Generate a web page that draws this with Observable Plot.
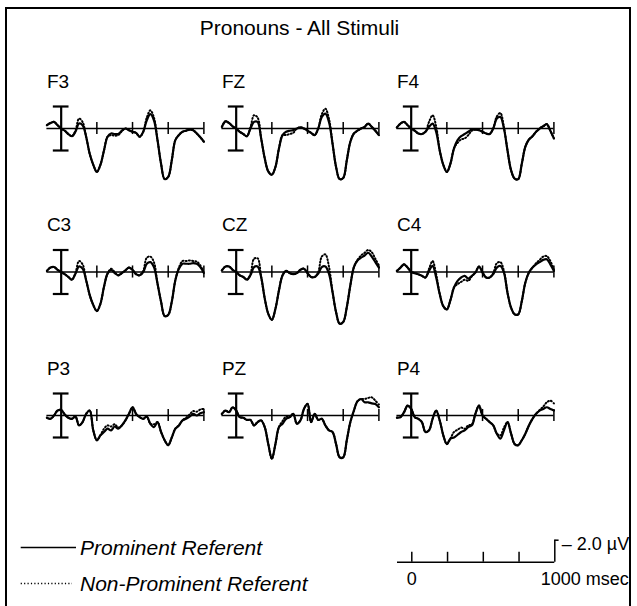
<!DOCTYPE html>
<html><head><meta charset="utf-8">
<script src="https://cdn.jsdelivr.net/npm/d3@7"></script>
<script src="https://cdn.jsdelivr.net/npm/@observablehq/plot@0.6"></script>
<style>
html,body{margin:0;padding:0;width:637px;height:606px;overflow:hidden;background:#fff;font-family:"Liberation Sans",Arial,Helvetica,sans-serif;color:#000;}
#frame{position:absolute;left:5px;top:7px;width:626px;height:640px;border:2px solid #000;box-sizing:border-box;}
#title{position:absolute;left:46px;width:507px;top:17px;text-align:center;font-size:21px;line-height:21px;}
#chart{position:absolute;left:0;top:0;}
#scale{position:absolute;left:0;top:520px;}
.leg{position:absolute;left:20px;height:21px;font-size:21px;font-style:italic;line-height:21px;white-space:nowrap;}
.leg svg{position:absolute;left:0;top:0;}
.leg span{position:absolute;left:60px;top:0;}
</style></head>
<body>
<div id="frame"></div>
<div id="title">Pronouns - All Stimuli</div>
<div id="chart"></div>
<div id="scale"></div>
<div class="leg" id="leg1"><svg width="60" height="21"><line x1="0.7" x2="56" y1="10.5" y2="10.5" stroke="#000" stroke-width="1.6"/></svg><span>Prominent Referent</span></div>
<div class="leg" id="leg2"><svg width="60" height="21"><line x1="0.7" x2="52" y1="10.5" y2="10.5" stroke="#000" stroke-width="1.6" stroke-dasharray="1.2,2.2"/></svg><span>Non-Prominent Referent</span></div>
<script>
// ---- data (µV, positive up) ----
const times = [-100,-75,-50,-25,0,25,50,75,100,125,150,175,200,225,250,275,300,325,350,375,400,425,450,475,500,525,550,575,600,625,650,675,700,725,750,775,800,825,850,875,900,925,950,975,1000];
const electrodes = ["F3","FZ","F4","C3","CZ","C4","P3","PZ","P4"];
const conditions = ["Prominent Referent","Non-Prominent Referent"];

const promF3 = [0.3,0.5,0.6,0.3,0,-0.2,-0.5,-0.7,-0.3,0.45,0.3,-0.75,-2.3,-3.3,-3.95,-3.3,-2.0,-0.75,-0.45,-0.5,-0.5,-0.2,0,-0.15,-0.3,-0.4,-0.75,-0.3,0.75,1.3,0.75,-1.05,-3.2,-4.6,-4.4,-2.9,-1.05,-0.6,-0.3,-0.2,-0.1,-0.15,-0.45,-0.8,-1.2];
const nonF3  = [0.3,0.5,0.6,0.3,0,-0.2,-0.5,-0.7,-0.2,0.9,0.6,-0.75,-2.3,-3.3,-3.95,-3.3,-2.0,-0.75,-0.6,-0.65,-0.6,-0.25,0,-0.15,-0.3,-0.4,-0.75,-0.3,1.0,1.65,1.0,-1.05,-3.2,-4.6,-4.4,-2.9,-1.05,-0.6,-0.3,-0.2,-0.1,-0.15,-0.45,-0.8,-1.2];
const promFZ = [0.15,0.65,0.5,0.2,0,-0.3,-0.5,-0.7,0,0.6,0.6,-0.9,-2.7,-3.9,-4.2,-3.5,-1.8,-0.6,-0.3,-0.2,-0.15,0,0.1,0,-0.2,-0.4,-0.6,0,1.05,1.35,0.6,-1.35,-3.5,-4.6,-4.5,-2.9,-1.2,-0.45,-0.2,0,0.15,0.45,0.15,-0.2,-0.6];
const nonFZ  = [0.15,0.65,0.5,0.2,0,-0.3,-0.5,-0.7,0.1,1.2,1.0,-0.9,-2.7,-3.9,-4.2,-3.5,-1.8,-0.6,-0.6,-0.5,-0.4,0,0.1,0,-0.2,-0.4,-0.6,0,1.3,1.8,0.9,-1.35,-3.5,-4.6,-4.5,-2.9,-1.2,-0.45,-0.2,0,0.15,0.45,0.15,-0.2,-0.6];
const promF4 = [0.1,0.45,0.6,0.3,0,-0.2,-0.45,-0.5,-0.3,0.15,0.45,-0.3,-2.0,-3.3,-3.95,-3.2,-1.8,-1.05,-0.7,-0.5,-0.3,-0.1,-0.1,-0.15,-0.3,-0.45,-0.5,0,0.9,1.05,0,-2.0,-3.8,-4.55,-4.6,-3.2,-1.65,-1.0,-0.7,-0.3,0,0.2,0.4,-0.2,-0.9];
const nonF4  = [0.1,0.45,0.6,0.3,0,-0.2,-0.45,-0.5,-0.3,0.6,1.2,0.2,-2.0,-3.3,-3.95,-3.2,-1.8,-1.3,-1.0,-0.9,-0.6,-0.2,-0.1,-0.15,-0.3,-0.45,-0.5,0,1.1,1.4,0.1,-2.0,-3.8,-4.55,-4.6,-3.2,-1.65,-1.0,-0.7,-0.3,0,0.2,0.4,-0.2,-0.9];
const promC3 = [0.1,0.4,0.45,0.2,0,-0.2,-0.45,-0.7,-0.15,0.5,0.3,-0.75,-2.1,-3.0,-3.55,-2.9,-1.35,-0.15,0.2,-0.1,-0.3,-0.1,0.15,0.4,0.2,-0.2,-0.3,0,0.75,0.9,0.45,-1.05,-2.7,-4.0,-3.9,-2.7,-0.75,0.3,0.75,0.75,0.75,0.8,0.75,0.45,-0.1];
const nonC3  = [0.1,0.4,0.45,0.2,0,-0.2,-0.45,-0.7,-0.1,1.0,0.7,-0.75,-2.1,-3.0,-3.55,-2.9,-1.35,-0.15,0.3,0,-0.3,-0.1,0.15,0.4,0.2,-0.2,-0.3,0.1,1.3,1.4,0.9,-1.05,-2.7,-4.0,-3.9,-2.7,-0.75,0.4,1.0,1.0,1.05,1.0,0.95,0.6,-0.1];
const promCZ = [0.15,0.5,0.5,0.2,0,-0.3,-0.45,-0.7,-0.3,0.45,0.5,-0.45,-2.4,-3.8,-4.35,-3.35,-1.65,-0.3,0.1,-0.1,-0.2,-0.1,0.2,0.3,-0.1,-0.45,-0.45,-0.15,0.45,0.5,-0.15,-1.8,-3.65,-4.7,-4.55,-3.2,-1.2,0.45,1.05,1.3,1.5,1.75,1.4,0.9,0.4];
const nonCZ  = [0.15,0.5,0.5,0.2,0,-0.3,-0.45,-0.7,-0.2,1.2,1.25,-0.45,-2.4,-3.8,-4.35,-3.35,-1.65,-0.3,0.1,-0.1,-0.2,-0.1,0.2,0.3,-0.1,-0.45,-0.45,0,1.4,1.6,0.5,-1.8,-3.65,-4.7,-4.55,-3.2,-1.2,0.45,1.1,1.5,1.75,2.0,1.8,1.2,0.6];
const promC4 = [0.1,0.4,0.7,0.4,0,-0.1,-0.2,-0.35,-0.5,0.1,0.55,-0.5,-2.0,-3.1,-3.4,-2.55,-1.4,-0.8,-0.5,-0.35,-0.6,-0.35,-0.05,0.5,-0.05,-0.5,-0.5,-0.2,0.4,0.55,-0.05,-1.9,-3.25,-3.85,-3.85,-2.65,-0.95,-0.05,0.4,0.7,0.9,1.1,1.15,0.7,0.1];
const nonC4  = [0.1,0.4,0.7,0.4,0,-0.1,-0.2,-0.35,-0.5,0.3,1.0,-0.2,-2.0,-3.1,-3.4,-2.55,-1.4,-1.1,-0.9,-0.7,-0.8,-0.4,-0.05,0.5,-0.05,-0.5,-0.5,-0.1,0.8,0.9,0.1,-1.9,-3.25,-3.85,-3.85,-2.65,-0.95,-0.05,0.4,0.8,1.1,1.4,1.45,1.0,0.2];
const promP3 = [-0.2,-0.3,0,0.45,0.5,0.1,-0.2,-0.3,-0.1,-0.9,-0.6,0.15,0.45,-1.35,-2.25,-1.8,-1.5,-1.2,-1.35,-1.0,-1.2,-0.9,-0.45,0.15,0.75,0.15,-0.15,-0.3,-0.1,-0.75,-1.05,-0.6,-1.5,-2.25,-2.7,-2.0,-1.2,-0.9,-0.45,-0.3,-0.1,0.15,0,0.2,0.3];
const nonP3  = [-0.2,-0.3,0,0.45,0.5,0.1,-0.2,-0.3,-0.1,-0.9,-0.6,0.15,0.45,-1.35,-2.25,-1.8,-1.2,-0.9,-1.0,-0.8,-1.1,-0.9,-0.45,0.15,0.75,0.15,-0.15,-0.3,-0.1,-0.75,-0.8,-0.6,-1.5,-2.25,-2.7,-2.0,-1.2,-0.9,-0.45,-0.2,0.1,0.4,0.35,0.55,0.6];
const promPZ = [0.15,0.45,0.3,0.75,0.45,-0.15,-0.2,-0.4,-0.4,-0.9,-0.6,-0.45,-1.05,-2.6,-3.95,-2.6,-1.05,-0.75,-0.3,-0.15,0.15,-0.75,-0.45,0.6,1.05,-0.6,0.15,-0.4,-0.3,-0.9,-1.35,-1.5,-2.6,-3.8,-3.8,-2.25,-0.6,0.45,1.3,1.5,1.2,1.2,1.1,1.05,0.75];
const nonPZ  = [0.15,0.45,0.3,0.75,0.45,-0.15,-0.2,-0.4,-0.4,-0.9,-0.6,-0.45,-1.05,-2.6,-3.95,-2.6,-1.05,-0.5,-0.1,-0.15,0.15,-0.75,-0.45,0.6,1.05,-0.6,0.15,-0.4,-0.3,-0.9,-1.35,-1.5,-2.6,-3.8,-3.8,-2.25,-0.6,0.45,1.3,1.5,1.5,1.6,1.65,1.35,1.0];
const promP4 = [-0.2,-0.15,0.3,0.9,0.6,-0.15,-0.3,-0.6,-1.5,-1.35,-0.3,0.45,-0.45,-1.8,-2.6,-2.1,-2.0,-1.75,-1.5,-1.35,-1.05,-0.9,0.15,0.9,0,-0.3,-0.6,-0.9,-1.65,-2.1,-1.35,-0.6,-1.65,-2.6,-2.7,-2.25,-1.65,-0.9,-0.3,0.15,0.45,0.6,0.75,0.6,0.45];
const nonP4  = [-0.2,-0.15,0.3,0.9,0.6,-0.15,-0.3,-0.6,-1.5,-1.35,-0.3,0.45,-0.45,-1.8,-2.6,-2.1,-1.5,-1.3,-1.1,-1.2,-0.9,-0.8,0.15,0.9,0,-0.3,-0.6,-0.9,-1.65,-1.8,-1.1,-0.6,-1.65,-2.6,-2.7,-2.25,-1.65,-0.9,-0.3,0.15,0.5,0.8,1.2,1.35,1.1];

const prominentSeries = [promF3,promFZ,promF4,promC3,promCZ,promC4,promP3,promPZ,promP4];
const nonProminentSeries = [nonF3,nonFZ,nonF4,nonC3,nonCZ,nonC4,nonP3,nonPZ,nonP4];

const axisTicks = [250,500,750,1000];      // ms
const calib = 2;                           // µV, calibration bar half-height
const scaleTicks = [0,250,500,750];        // ms
const scaleLabelTimes = [0,1000];
const scaleLabels = ["0","1000 msec"];
const microvoltLabel = "– 2.0 µV";

// ---- table ----
const rows = [];
electrodes.forEach((e, i) => {
  times.forEach((t, j) => {
    rows.push({electrode: e, cond: conditions[0], t, v: prominentSeries[i][j]});
    rows.push({electrode: e, cond: conditions[1], t, v: nonProminentSeries[i][j]});
  });
});
const colOf = e => e.slice(1);
const rowOf = e => e[0];
const font = '"Liberation Sans", Arial, Helvetica, sans-serif';

const chart = Plot.plot({
  width: 637, height: 480,
  marginLeft: 46.4, marginRight: 83.6, marginTop: 73, marginBottom: 10,
  x: {domain: [-100, 1000], axis: null},
  y: {domain: [-5, 5], axis: null},
  fx: {domain: ["3","Z","4"], paddingInner: 0.103, paddingOuter: 0, round: false, axis: null},
  fy: {domain: ["F","C","P"], paddingInner: 0.2334, paddingOuter: 0, round: false, axis: null},
  style: {fontFamily: font, background: "transparent", overflow: "visible"},
  marks: [
    Plot.ruleY([0], {stroke: "#000", strokeWidth: 1.5}),
    Plot.ruleX(axisTicks, {y1: -0.55, y2: 0.55, stroke: "#000", strokeWidth: 1.5}),
    Plot.ruleX([0], {y1: -calib, y2: calib, stroke: "#000", strokeWidth: 2.2}),
    Plot.ruleY([-calib, calib], {x1: -55, x2: 55, stroke: "#000", strokeWidth: 2.2}),
    Plot.line(rows.filter(d => d.cond === conditions[1]), {
      x: "t", y: "v", z: "electrode",
      fx: d => colOf(d.electrode), fy: d => rowOf(d.electrode),
      curve: "catmull-rom", stroke: "#000", strokeWidth: 2, strokeDasharray: "1,2.2"
    }),
    Plot.line(rows.filter(d => d.cond === conditions[0]), {
      x: "t", y: "v", z: "electrode",
      fx: d => colOf(d.electrode), fy: d => rowOf(d.electrode),
      curve: "catmull-rom", stroke: "#000", strokeWidth: 2.2
    }),
    Plot.text(electrodes, {
      fx: colOf, fy: rowOf, text: d => d,
      frameAnchor: "top-left", dy: 1, fontSize: 19, fill: "#000", fontFamily: font
    })
  ]
});
document.getElementById("chart").appendChild(chart);

const scale = Plot.plot({
  width: 637, height: 86,
  marginLeft: 397, marginRight: 82.7, marginTop: 19.7, marginBottom: 5.8,
  x: {domain: [-100, 1000], axis: null},
  y: {domain: [-3.5, 2], axis: null},
  style: {fontFamily: font, background: "transparent", overflow: "visible"},
  marks: [
    Plot.ruleY([0], {stroke: "#000", strokeWidth: 1.5}),
    Plot.ruleX(scaleTicks, {y1: 0, y2: 0.9, stroke: "#000", strokeWidth: 1.5}),
    Plot.ruleX([1000], {y1: 0, y2: calib, stroke: "#000", strokeWidth: 1.5}),
    Plot.ruleY([calib], {x1: 1000, x2: 1030, stroke: "#000", strokeWidth: 1.5}),
    Plot.text(scaleLabelTimes.slice(0, 1), {
      x: d => d, y: 0, text: [scaleLabels[0]], textAnchor: "middle",
      dy: 17.5, fontSize: 18, fill: "#000", fontFamily: font
    }),
    Plot.text(scaleLabelTimes.slice(1), {
      x: d => d, y: 0, text: [scaleLabels[1]], textAnchor: "start",
      dx: -14, dy: 17.5, fontSize: 18, fill: "#000", fontFamily: font
    }),
    Plot.text([calib], {
      x: () => 1000, y: d => d, text: [microvoltLabel], textAnchor: "start",
      dx: 7, dy: 4, fontSize: 18, fill: "#000", fontFamily: font
    })
  ]
});
document.getElementById("scale").appendChild(scale);

document.getElementById("leg1").style.top = "536.5px";
document.getElementById("leg2").style.top = "573px";
</script>
</body></html>
